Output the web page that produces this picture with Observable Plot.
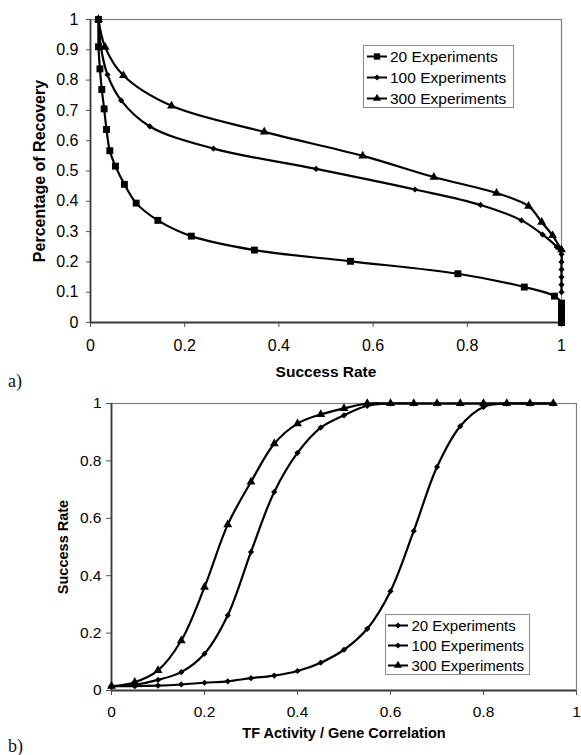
<!DOCTYPE html>
<html>
<head>
<meta charset="utf-8">
<script src="https://cdn.jsdelivr.net/npm/d3@7"></script>
<script src="https://cdn.jsdelivr.net/npm/@observablehq/plot@0.6"></script>
<style>
  body { margin: 0; background: #fff; }
  #page { position: relative; width: 581px; height: 755px; overflow: hidden; background: #fff;
          font-family: Arial, "Liberation Sans", Helvetica, sans-serif; }
  .panel { position: absolute; left: 0; }
  .tag { position: absolute; left: 8px; font-family: "Liberation Serif", "DejaVu Serif", serif;
         font-size: 18px; line-height: 18px; color: #111; }
  .legend { position: absolute; overflow: visible; }
</style>
</head>
<body>
<div id="page"></div>
<script>
const seriesNames = ["20 Experiments", "100 Experiments", "300 Experiments"];

// a) success rate (x) against percentage of recovery (y)
const rateA20  = [0.017, 0.017, 0.020, 0.024, 0.029, 0.034, 0.041, 0.053, 0.072, 0.097, 0.143, 0.214, 0.348, 0.552, 0.780, 0.921, 0.985, 1, 1, 1, 1, 1, 1];
const recovA20 = [1.000, 0.910, 0.837, 0.769, 0.705, 0.637, 0.567, 0.516, 0.456, 0.394, 0.337, 0.285, 0.239, 0.202, 0.161, 0.117, 0.087, 0.064, 0.045, 0.030, 0.018, 0.008, 0];
const rateA100  = [0.017, 0.022, 0.036, 0.065, 0.126, 0.261, 0.479, 0.689, 0.828, 0.915, 0.960, 0.990, 1, 1, 1, 1, 1, 1];
const recovA100 = [1.000, 0.910, 0.818, 0.733, 0.647, 0.574, 0.507, 0.439, 0.388, 0.337, 0.290, 0.249, 0.225, 0.200, 0.175, 0.150, 0.125, 0.100];
const rateA300  = [0.017, 0.031, 0.070, 0.172, 0.369, 0.578, 0.729, 0.862, 0.930, 0.958, 0.981, 1];
const recovA300 = [1.000, 0.909, 0.815, 0.715, 0.629, 0.550, 0.480, 0.427, 0.384, 0.331, 0.287, 0.240];

// b) TF activity / gene correlation (x) against success rate (y)
const corrLevels = [0, 0.05, 0.1, 0.15, 0.2, 0.25, 0.3, 0.35, 0.4, 0.45, 0.5, 0.55, 0.6, 0.65, 0.7, 0.75, 0.8, 0.85, 0.9, 0.95];
const succB20  = [0.015, 0.015, 0.017, 0.021, 0.027, 0.032, 0.043, 0.052, 0.068, 0.097, 0.142, 0.215, 0.346, 0.556, 0.779, 0.921, 0.988, 1, 1, 1];
const succB100 = [0.015, 0.020, 0.037, 0.064, 0.128, 0.262, 0.483, 0.692, 0.828, 0.916, 0.959, 0.992, 1, 1, 1, 1, 1, 1, 1, 1];
const succB300 = [0.015, 0.029, 0.070, 0.174, 0.360, 0.578, 0.727, 0.860, 0.930, 0.962, 0.983, 1, 1, 1, 1, 1, 1, 1, 1, 1];

// tick values
const ticksAx = [0, 0.2, 0.4, 0.6, 0.8, 1];
const ticksAy = [0, 0.1, 0.2, 0.3, 0.4, 0.5, 0.6, 0.7, 0.8, 0.9, 1];
const ticksBx = [0, 0.2, 0.4, 0.6, 0.8, 1];
const ticksBy = [0, 0.2, 0.4, 0.6, 0.8, 1];

const fontStack = "Arial, 'Liberation Sans', Helvetica, sans-serif";
const fmt = d => String(d);
const zip = (xs, ys) => xs.map((x, i) => ({x, y: ys[i]}));

const a20 = zip(rateA20, recovA20);
const a100 = zip(rateA100, recovA100);
const a300 = zip(rateA300, recovA300);
const b20 = zip(corrLevels, succB20);
const b100 = zip(corrLevels, succB100);
const b300 = zip(corrLevels, succB300);

const lineOpts = {x: "x", y: "y", curve: "catmull-rom", stroke: "#000", strokeWidth: 2.2};
const marker = {
  square:   {symbol: "square", r: 3.9},
  diamond:  {symbol: "diamond2", r: 2.8},
  triangle: {symbol: "triangle", r: 3.3}
};
const dots = (data, m) => Plot.dot(data, {x: "x", y: "y", fill: "#000", stroke: "none", ...marker[m]});

function panel({width, height, margins, xTicks, yTicks, xTickOpts, yTickOpts, series, xTitle, yTitle, xTitleDy, yTitleDx, xTitleSize, yTitleSize, tickFont}) {
  return Plot.plot({
    width, height, ...margins,
    x: {domain: [0, 1]},
    y: {domain: [0, 1]},
    style: {fontFamily: fontStack, fontSize: tickFont + "px", color: "#000", background: "transparent", overflow: "visible"},
    marks: [
      Plot.frame({stroke: "#808080", strokeWidth: 1.2}),
      Plot.axisX({ticks: xTicks, tickFormat: fmt, stroke: "#555", label: null, fontSize: tickFont, ...xTickOpts}),
      Plot.axisY({ticks: yTicks, tickFormat: fmt, stroke: "#555", label: null, fontSize: tickFont, ...yTickOpts}),
      Plot.ruleX([0], {stroke: "#3c3c3c", strokeWidth: 1.8}),
      Plot.ruleY([0], {stroke: "#3c3c3c", strokeWidth: 1.8}),
      ...series.map(([data]) => Plot.line(data, lineOpts)),
      ...series.map(([data, m]) => dots(data, m)),
      Plot.text([xTitle], {text: d => d, frameAnchor: "bottom", dy: xTitleDy, textAnchor: "middle",
                           fontWeight: "bold", fontSize: xTitleSize, lineAnchor: "middle"}),
      Plot.text([yTitle], {text: d => d, frameAnchor: "left", dx: yTitleDx, rotate: -90, textAnchor: "middle",
                           fontWeight: "bold", fontSize: yTitleSize, lineAnchor: "middle"})
    ]
  });
}

const page = document.getElementById("page");

const plotA = panel({
  width: 581, height: 385,
  margins: {marginTop: 19, marginRight: 20, marginBottom: 63, marginLeft: 90},
  xTicks: ticksAx, yTicks: ticksAy,
  xTickOpts: {tickSize: 5, tickPadding: 12},
  yTickOpts: {tickSize: 4, tickPadding: 8},
  series: [[a20, "square"], [a100, "diamond"], [a300, "triangle"]],
  xTitle: "Success Rate", yTitle: "Percentage of Recovery",
  xTitleDy: 50, yTitleDx: -51, xTitleSize: 15.5, yTitleSize: 16, tickFont: 16
});
plotA.classList.add("panel");
plotA.style.top = "0px";
page.appendChild(plotA);

const plotB = panel({
  width: 581, height: 370,
  margins: {marginTop: 18, marginRight: 5, marginBottom: 65, marginLeft: 111},
  xTicks: ticksBx, yTicks: ticksBy,
  xTickOpts: {tickSize: 5, tickPadding: 10},
  yTickOpts: {tickSize: 5, tickPadding: 5},
  series: [[b20, "diamond"], [b100, "diamond"], [b300, "triangle"]],
  xTitle: "TF Activity / Gene Correlation", yTitle: "Success Rate",
  xTitleDy: 43, yTitleDx: -48, xTitleSize: 14.5, yTitleSize: 14.5, tickFont: 15.5
});
plotB.classList.add("panel");
plotB.style.top = "385px";
page.appendChild(plotB);

// panel tags
for (const [t, top] of [["a)", 372], ["b)", 737]]) {
  const el = document.createElement("div");
  el.className = "tag";
  el.textContent = t;
  el.style.top = top + "px";
  page.appendChild(el);
}

// boxed legends
function legend({left, top, width, height, rowY, lineX0, lineX1, textX, fontSize, symbols}) {
  const svg = d3.create("svg")
    .attr("class", "legend")
    .attr("width", width).attr("height", height)
    .style("left", left + "px").style("top", top + "px");
  svg.append("rect")
    .attr("x", 0.5).attr("y", 0.5).attr("width", width - 1).attr("height", height - 1)
    .attr("fill", "#fff").attr("stroke", "#8a8a8a").attr("stroke-width", 1);
  const sym = {
    square: d3.symbol(d3.symbolSquare, 40),
    diamond: d3.symbol(d3.symbolDiamond2, 22),
    triangle: d3.symbol(d3.symbolTriangle, 28)
  };
  seriesNames.forEach((name, i) => {
    const y = rowY[i];
    svg.append("line")
      .attr("x1", lineX0).attr("x2", lineX1).attr("y1", y).attr("y2", y)
      .attr("stroke", "#000").attr("stroke-width", 2);
    svg.append("path")
      .attr("d", sym[symbols[i]]())
      .attr("transform", `translate(${(lineX0 + lineX1) / 2},${y})`)
      .attr("fill", "#000");
    svg.append("text")
      .attr("x", textX).attr("y", y).attr("dy", "0.35em")
      .attr("font-family", fontStack).attr("font-size", fontSize)
      .attr("fill", "#000")
      .text(name);
  });
  page.appendChild(svg.node());
}

legend({left: 363, top: 45, width: 151, height: 63, rowY: [11.5, 32.5, 53.5],
        lineX0: 4, lineX1: 24, textX: 27, fontSize: 15.5,
        symbols: ["square", "diamond", "triangle"]});
legend({left: 385, top: 614, width: 145, height: 61, rowY: [11.5, 31.5, 51.5],
        lineX0: 3, lineX1: 23, textX: 26.5, fontSize: 15,
        symbols: ["diamond", "diamond", "triangle"]});
</script>
</body>
</html>
